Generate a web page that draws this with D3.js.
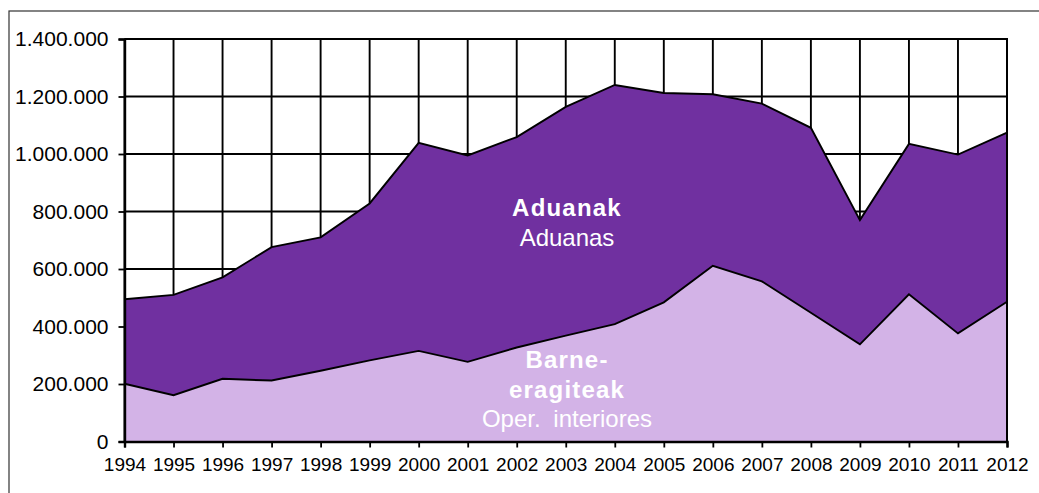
<!DOCTYPE html>
<html>
<head>
<meta charset="utf-8">
<script src="https://cdn.jsdelivr.net/npm/d3@7"></script>
<style>
  body { margin: 0; background: #fff; }
  svg text { font-family: Arial, "Liberation Sans", sans-serif; }
</style>
</head>
<body>
<div id="chart"></div>
<script>
// data
const years = ['1994','1995','1996','1997','1998','1999','2000','2001','2002','2003',
               '2004','2005','2006','2007','2008','2009','2010','2011','2012'];
const barne = [201000, 161000, 218000, 212000, 246000, 282000, 315000, 277000, 327000, 368000,
               408000, 484000, 611000, 557000, 448000, 338000, 512000, 376000, 486000];
const aduanak = [294000, 349000, 353000, 464000, 464000, 546000, 724000, 718000, 732000, 796000,
                 832000, 728000, 597000, 618000, 643000, 432000, 523000, 622000, 588000];
const yTicks = [0, 200000, 400000, 600000, 800000, 1000000, 1200000, 1400000];

const svgWidth = 1039;
const svgHeight = 493;
const margin = {top: 39, right: 32, bottom: 51.5, left: 124.5};
const width = svgWidth - margin.left - margin.right;
const height = svgHeight - margin.top - margin.bottom;

const svg = d3.select('#chart').append('svg')
    .attr('width', svgWidth).attr('height', svgHeight);

// outer frame (runs off the right and bottom)
svg.append('rect')
    .attr('x', 9).attr('y', 11)
    .attr('width', 1100).attr('height', 600)
    .attr('fill', 'none').attr('stroke', '#333').attr('stroke-width', 1.2);

const g = svg.append('g').attr('transform', `translate(${margin.left},${margin.top})`);

const x = d3.scalePoint().domain(years).range([0, width]);
const y = d3.scaleLinear().domain([0, 1400000]).range([height, 0]);

// grid
g.append('g').selectAll('line').data(years).join('line')
    .attr('x1', d => x(d)).attr('x2', d => x(d))
    .attr('y1', 0).attr('y2', height)
    .attr('stroke', '#000').attr('stroke-width', 1.9);
g.append('g').selectAll('line').data(yTicks).join('line')
    .attr('x1', 0).attr('x2', width)
    .attr('y1', d => y(d)).attr('y2', d => y(d))
    .attr('stroke', '#000').attr('stroke-width', 1.9);

// stacked areas
const rows = years.map((yr, i) => ({year: yr, barne: barne[i], aduanak: aduanak[i]}));
const stack = d3.stack().keys(['barne', 'aduanak'])(rows);
const colors = {barne: '#D3B3E7', aduanak: '#7030A0'};

const area = d3.area()
    .x(d => x(d.data.year))
    .y0(d => y(d[0]))
    .y1(d => y(d[1]));
const topLine = d3.line()
    .x(d => x(d.data.year))
    .y(d => y(d[1]));

g.selectAll('.area').data(stack).join('path')
    .attr('class', 'area')
    .attr('d', area)
    .attr('fill', d => colors[d.key]);
g.selectAll('.edge').data(stack).join('path')
    .attr('class', 'edge')
    .attr('d', topLine)
    .attr('fill', 'none')
    .attr('stroke', '#000').attr('stroke-width', 1.9);

// plot frame top/right
g.append('path')
    .attr('d', `M0,0H${width}V${height}`)
    .attr('fill', 'none').attr('stroke', '#000').attr('stroke-width', 2);

// axes
const xAxis = g.append('g')
    .attr('transform', `translate(0,${height})`)
    .call(d3.axisBottom(x).tickSize(6).tickPadding(10));
const yAxis = g.append('g')
    .call(d3.axisLeft(y).tickValues(yTicks).tickSize(6).tickPadding(10)
        .tickFormat(d => d3.format(',')(d).replace(/,/g, '.')));

[xAxis, yAxis].forEach(a => {
    a.select('.domain').attr('stroke', '#000').attr('stroke-width', 2.4);
    a.selectAll('.tick line').attr('stroke', '#000').attr('stroke-width', 1.8);
    a.selectAll('.tick text').attr('fill', '#000').style('font-size', '19px');
});
yAxis.selectAll('.tick text').style('font-size', '21px');

// area labels
const labels = [
    {text: 'Aduanak', y: 216, bold: true},
    {text: 'Aduanas', y: 246, bold: false},
    {text: 'Barne-', y: 368, bold: true},
    {text: 'eragiteak', y: 398, bold: true},
    {text: 'Oper. interiores', y: 427, bold: false}
];
svg.append('g').selectAll('text').data(labels).join('text')
    .attr('x', 567).attr('y', d => d.y)
    .attr('text-anchor', 'middle')
    .attr('fill', '#fff')
    .style('font-size', '24px')
    .style('font-weight', d => d.bold ? 'bold' : 'normal')
    .style('letter-spacing', d => d.bold ? '1.2px' : '0px')
    .style('word-spacing', '6px')
    .text(d => d.text);
</script>
</body>
</html>
